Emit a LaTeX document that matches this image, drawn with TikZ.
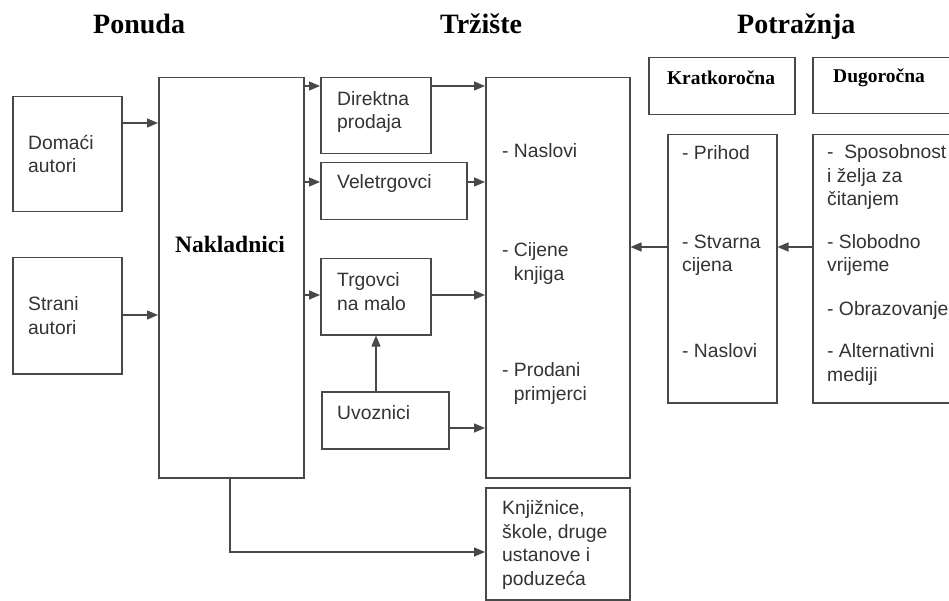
\documentclass[tikz,border=0pt]{standalone}
\usepackage{fontspec}
\setmainfont{Liberation Serif}
\setsansfont{Liberation Sans}
\usetikzlibrary{arrows.meta}

\definecolor{linegray}{HTML}{484848}
\definecolor{textgray}{HTML}{333333}

\tikzset{
  box/.style={draw=linegray, line width=1.5pt, inner sep=0pt, anchor=north west},
  arr/.style={draw=linegray, line width=1.5pt, -{Triangle[length=11pt,width=9pt]}},
  txt/.style={anchor=base west, inner sep=0pt, align=left, text=textgray,
    font=\sffamily\fontsize{19.3}{23.5}\selectfont},
  head/.style={anchor=base west, inner sep=0pt, font=\bfseries\fontsize{28}{30}\selectfont},
}

\begin{document}
\begin{tikzpicture}[x=1pt, y=-1pt]
    \useasboundingbox (0,0) rectangle (949,601);

    \foreach \n/\xa/\ya/\xb/\yb in {domaci/12/96/121/211, strani/12/257/121/373,
        nakl/158/77/303/477, direkt/320/77/430/153, velet/320/162/466/219,
        trgov/320/258/430/334, uvoz/321/391/448/448, market/485/77/629/477,
        knjiz/485/487/629/599, kratko/648/57/794/114, dugo/812/57/958/113,
        kratkolist/667/134/776/402, dugolist/812/134/958/402} {
        \node[box, minimum width=\xb-\xa, minimum height=\yb-\ya] (\n) at (\xa,\ya) {};
    }

    \node[head] (ponuda) at (93,34) {Ponuda};
    \node[head] (trziste) at (440,34) {Tržište};
    \node[head] (potraznja) at (737,34) {Potražnja};

    \node[head, anchor=base, font=\bfseries\fontsize{23.5}{26}\selectfont] (tnakl) at (230,253) {Nakladnici};
    \node[head, anchor=base, font=\bfseries\fontsize{19.5}{22}\selectfont] (tkratko) at (721,85) {Kratkoročna};
    \node[head, font=\bfseries\fontsize{19.5}{22}\selectfont] (tdugo) at (833,83) {Dugoročna};

    % base = baseline of the last line
    \node[txt] (tdomaci) at (28,173) {Domaći\\autori};
    \node[txt] (tstrani) at (28,334) {Strani\\autori};
    \node[txt] (tdirekt) at (337,129) {Direktna\\prodaja};
    \node[txt] (tvelet) at (337,189) {Veletrgovci};
    \node[txt] (ttrgov) at (337,310) {Trgovci\\na malo};
    \node[txt] (tuvoz) at (337,419) {Uvoznici};

    \node[txt] (tnaslovi) at (502,158) {- Naslovi};
    \node[txt] (tcijene) at (502,280) {- Cijene\\\hphantom{- }knjiga};
    \node[txt] (tprodani) at (502,400) {- Prodani\\\hphantom{- }primjerci};
    \node[txt] (tknjiz) at (502,585) {Knjižnice,\\škole, druge\\ustanove i\\poduzeća};

    \node[txt] (tprihod) at (682,160) {- Prihod};
    \node[txt] (tstvarna) at (682,272) {- Stvarna\\cijena};
    \node[txt] (tnaslovi2) at (682,357) {- Naslovi};

    \node[txt] (tsposob) at (827,206) {-\ \ Sposobnost\\i želja za\\čitanjem};
    \node[txt] (tslob) at (827,272) {- Slobodno\\vrijeme};
    \node[txt] (tobraz) at (827,315) {- Obrazovanje};
    \node[txt] (talter) at (827,381) {- Alternativni\\mediji};

    \draw[arr] (domaci.east |- 0,123) -- (nakl.west |- 0,123);
    \draw[arr] (strani.east |- 0,315) -- (nakl.west |- 0,315);
    \foreach \b/\y in {direkt/86, velet/182, trgov/295} {
        \draw[arr] (nakl.east |- 0,\y) -- (\b.west |- 0,\y);
        \draw[arr] (\b.east |- 0,\y) -- (market.west |- 0,\y);
    }
    \draw[arr] (uvoz.east |- 0,428) -- (market.west |- 0,428);
    \draw[arr] (uvoz.north -| 376,0) -- (trgov.south -| 376,0);
    \draw[arr] (nakl.south -| 230,0) |- (knjiz.west |- 0,552);
    \draw[arr] (dugolist.west |- 0,247) -- (kratkolist.east |- 0,247);
    \draw[arr] (kratkolist.west |- 0,247) -- (market.east |- 0,247);
\end{tikzpicture}
\end{document}
